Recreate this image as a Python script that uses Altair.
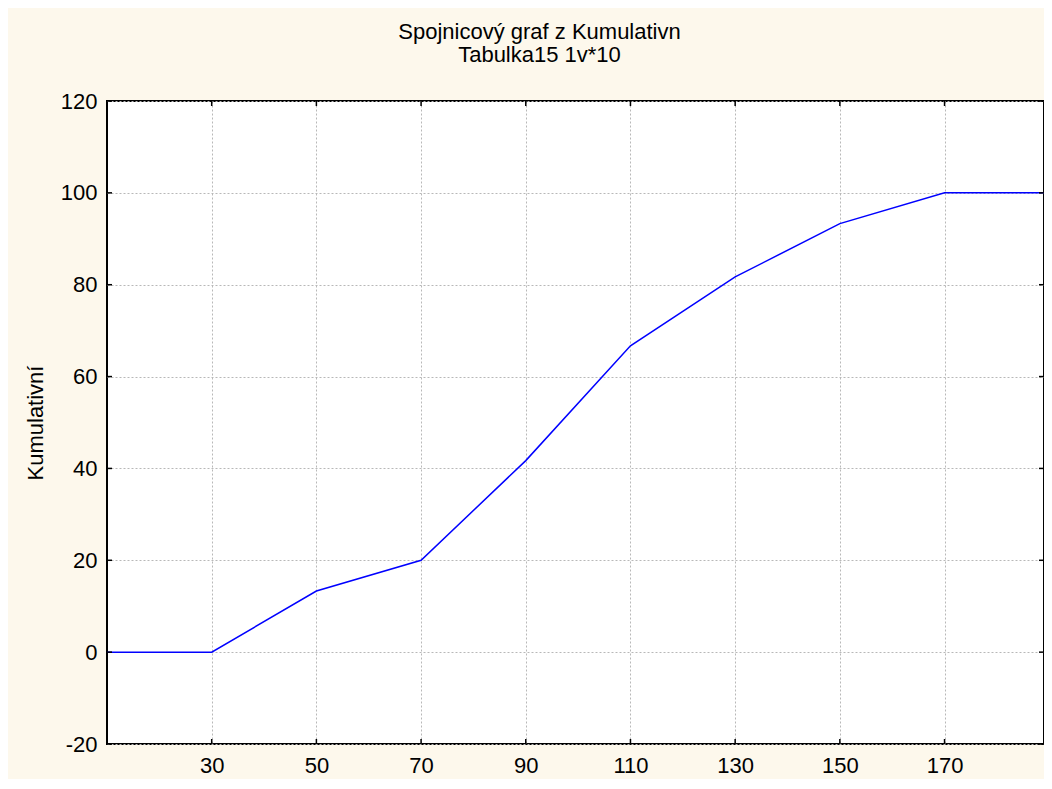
import altair as alt
import pandas as pd

# data
x_vals = [10, 30, 50, 70, 90, 110, 130, 150, 170, 190]
cum_vals = [0, 0, 13.3, 20, 41.7, 66.7, 81.7, 93.3, 100, 100]
x_ticks = [30, 50, 70, 90, 110, 130, 150, 170]
y_ticks = [-20, 0, 20, 40, 60, 80, 100, 120]
title_lines = ["Spojnicový graf z Kumulativn", "Tabulka15 1v*10"]
y_title = "Kumulativní"

# visible x range (the page margin cuts the last few pixels of the frame)
x_domain = [10, 189]
y_domain = [-20, 120]

W, H = 937, 643
FONT = "Liberation Sans"
TL = 5
LBL = 22

df = pd.DataFrame({"x": x_vals, "y": cum_vals})
xt = pd.DataFrame({"x": x_ticks})
yt = pd.DataFrame({"y": y_ticks})

xs = alt.Scale(domain=x_domain, nice=False, zero=False)
ys = alt.Scale(domain=y_domain, nice=False, zero=False)

minus_fix = "replace(datum.label, '\u2212', '-')"

ax_x = alt.Axis(
    values=x_ticks, title=None, grid=True, ticks=False, tickSize=0,
    domain=False, labelPadding=11, labelFontSize=LBL, labelFont=FONT,
    labelColor="black", gridColor="#b8b8b8", gridDash=[2, 2], gridWidth=1)
ax_y = alt.Axis(
    values=y_ticks, title=y_title, grid=True, ticks=False, tickSize=0,
    domain=False, labelPadding=10, labelFontSize=LBL, labelFont=FONT,
    labelColor="black", gridColor="#b8b8b8", gridDash=[2, 2], gridWidth=1,
    labelExpr=minus_fix,
    titleFont=FONT, titleFontSize=22, titleFontWeight="normal",
    titleColor="black", titleX=-65, titleY=H / 2, titleAngle=270,
    titleBaseline="alphabetic", titleAlign="center")

X = alt.X("x:Q", scale=xs, axis=ax_x, title=None)
Y = alt.Y("y:Q", scale=ys, axis=ax_y, title=y_title)

line = alt.Chart(df).mark_line(color="#0000FF", strokeWidth=1.5, clip=True).encode(x=X, y=Y)

tick_style = dict(color="black", strokeWidth=1.5)
left_ticks = alt.Chart(yt).mark_rule(**tick_style).encode(
    y=Y, x=alt.value(0), x2=alt.value(TL))
right_ticks = alt.Chart(yt).mark_rule(**tick_style).encode(
    y=Y, x=alt.value(W - TL), x2=alt.value(W))
bottom_ticks = alt.Chart(xt).mark_rule(**tick_style).encode(
    x=X, y=alt.value(H - TL), y2=alt.value(H))
top_ticks = alt.Chart(xt).mark_rule(**tick_style).encode(
    x=X, y=alt.value(0), y2=alt.value(TL))

chart = alt.layer(line, left_ticks, right_ticks, bottom_ticks, top_ticks).properties(
    width=W, height=H,
    title=alt.TitleParams(title_lines, font=FONT, fontSize=22, fontWeight="normal",
                          color="black", anchor="middle", dx=-36, offset=23,
                          lineHeight=23),
    autosize=alt.AutoSizeParams(type="none"),
    padding={"left": 99, "top": 93, "right": 0, "bottom": 35},
    background="#FDF8EC",
).configure_view(
    stroke="black", strokeWidth=2, fill="white"
)

chart.save("out.html", embed_options={"renderer": "svg", "actions": False})
